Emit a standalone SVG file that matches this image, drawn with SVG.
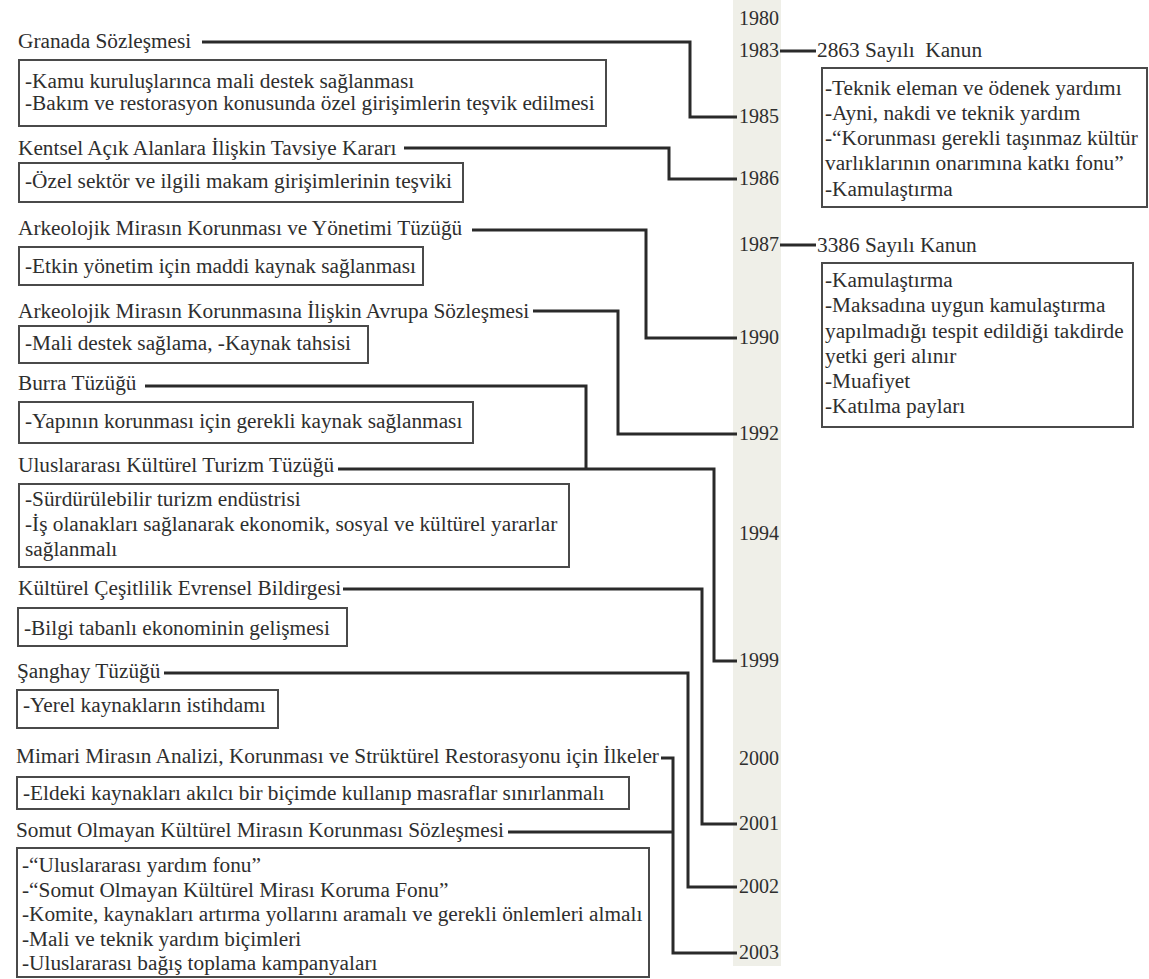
<svg xmlns="http://www.w3.org/2000/svg" width="1149" height="979" viewBox="0 0 1149 979">
<style>
text{font-family:"Liberation Serif","Times New Roman",serif;font-size:21.3px;fill:#2e2e2e}
.yr{text-anchor:end;font-size:20px}
.box{fill:none;stroke:#4a4a4a;stroke-width:2}
.con{fill:none;stroke:#2a2a2a;stroke-width:3;stroke-linejoin:miter}
</style>
<rect width="1149" height="979" fill="#ffffff"/>
<g id="timeline">
<rect x="733" y="0" width="48" height="966" fill="#efefe8"/>
<text class="yr" x="779" y="25">1980</text>
<text class="yr" x="779" y="57">1983</text>
<text class="yr" x="779" y="123">1985</text>
<text class="yr" x="779" y="185">1986</text>
<text class="yr" x="779" y="251">1987</text>
<text class="yr" x="779" y="344">1990</text>
<text class="yr" x="779" y="440">1992</text>
<text class="yr" x="779" y="540">1994</text>
<text class="yr" x="779" y="667">1999</text>
<text class="yr" x="779" y="765">2000</text>
<text class="yr" x="779" y="830">2001</text>
<text class="yr" x="779" y="893">2002</text>
<text class="yr" x="779" y="959">2003</text>
</g>
<g id="connectors">
<path class="con" d="M202,42H690V117H737"/>
<path class="con" d="M404,148H669V179H737"/>
<path class="con" d="M472,230H646V338H737"/>
<path class="con" d="M533,311H618V434H737"/>
<path class="con" d="M145,386H586V469"/>
<path class="con" d="M338,469H714V661H737"/>
<path class="con" d="M343,589H702V824H737"/>
<path class="con" d="M164,673H688V887H737"/>
<path class="con" d="M661,758H673V953H737"/>
<path class="con" d="M508,832H673"/>
<path class="con" d="M780,51H816"/>
<path class="con" d="M780,245H816"/>
</g>
<g id="granada">
<text x="18" y="48">Granada Sözleşmesi</text>
<rect class="box" x="19" y="60" width="587" height="66"/>
<text x="25" y="88">-Kamu kuruluşlarınca mali destek sağlanması</text>
<text x="25" y="110">-Bakım ve restorasyon konusunda özel girişimlerin teşvik edilmesi</text>
</g>
<g id="kentsel">
<text x="18" y="155">Kentsel Açık Alanlara İlişkin Tavsiye Kararı</text>
<rect class="box" x="19" y="163" width="444" height="39"/>
<text x="25" y="188">-Özel sektör ve ilgili makam girişimlerinin teşviki</text>
</g>
<g id="arkeolojik-tuzuk">
<text x="18" y="235">Arkeolojik Mirasın Korunması ve Yönetimi Tüzüğü</text>
<rect class="box" x="19" y="247" width="404" height="38"/>
<text x="25" y="273">-Etkin yönetim için maddi kaynak sağlanması</text>
</g>
<g id="arkeolojik-avrupa">
<text x="18" y="318">Arkeolojik Mirasın Korunmasına İlişkin Avrupa Sözleşmesi</text>
<rect class="box" x="19" y="326" width="349" height="37"/>
<text x="25" y="350">-Mali destek sağlama, -Kaynak tahsisi</text>
</g>
<g id="burra">
<text x="18" y="390">Burra Tüzüğü</text>
<rect class="box" x="19" y="402" width="454" height="41"/>
<text x="25" y="428">-Yapının korunması için gerekli kaynak sağlanması</text>
</g>
<g id="kulturel-turizm">
<text x="18" y="472">Uluslararası Kültürel Turizm Tüzüğü</text>
<rect class="box" x="19" y="484" width="550" height="83"/>
<text x="25" y="506">-Sürdürülebilir turizm endüstrisi</text>
<text x="25" y="531">-İş olanakları sağlanarak ekonomik, sosyal ve kültürel yararlar</text>
<text x="25" y="556">sağlanmalı</text>
</g>
<g id="cesitlilik">
<text x="18" y="595">Kültürel Çeşitlilik Evrensel Bildirgesi</text>
<rect class="box" x="18" y="608" width="329" height="38"/>
<text x="24" y="635">-Bilgi tabanlı ekonominin gelişmesi</text>
</g>
<g id="sanghay">
<text x="17" y="678">Şanghay Tüzüğü</text>
<rect class="box" x="17" y="690" width="261" height="38"/>
<text x="23" y="712">-Yerel kaynakların istihdamı</text>
</g>
<g id="mimari">
<text x="16" y="763">Mimari Mirasın Analizi, Korunması ve Strüktürel Restorasyonu için İlkeler</text>
<rect class="box" x="17" y="777" width="612" height="32"/>
<text x="23" y="800">-Eldeki kaynakları akılcı bir biçimde kullanıp masraflar sınırlanmalı</text>
</g>
<g id="somut">
<text x="16" y="837">Somut Olmayan Kültürel Mirasın Korunması Sözleşmesi</text>
<rect class="box" x="17" y="848" width="632" height="129"/>
<text x="22" y="872">-“Uluslararası yardım fonu”</text>
<text x="22" y="897">-“Somut Olmayan Kültürel Mirası Koruma Fonu”</text>
<text x="22" y="921">-Komite, kaynakları artırma yollarını aramalı ve gerekli önlemleri almalı</text>
<text x="22" y="946">-Mali ve teknik yardım biçimleri</text>
<text x="22" y="970">-Uluslararası bağış toplama kampanyaları</text>
</g>
<g id="kanun-2863">
<text x="817" y="57" xml:space="preserve">2863 Sayılı  Kanun</text>
<rect class="box" x="822" y="68" width="325" height="139"/>
<text x="825" y="95">-Teknik eleman ve ödenek yardımı</text>
<text x="825" y="120">-Ayni, nakdi ve teknik yardım</text>
<text x="825" y="145">-“Korunması gerekli taşınmaz kültür</text>
<text x="825" y="170">varlıklarının onarımına katkı fonu”</text>
<text x="825" y="196">-Kamulaştırma</text>
</g>
<g id="kanun-3386">
<text x="817" y="252">3386 Sayılı Kanun</text>
<rect class="box" x="822" y="263" width="311" height="164"/>
<text x="825" y="287">-Kamulaştırma</text>
<text x="825" y="312">-Maksadına uygun kamulaştırma</text>
<text x="825" y="338">yapılmadığı tespit edildiği takdirde</text>
<text x="825" y="363">yetki geri alınır</text>
<text x="825" y="388">-Muafiyet</text>
<text x="825" y="413">-Katılma payları</text>
</g>
</svg>
